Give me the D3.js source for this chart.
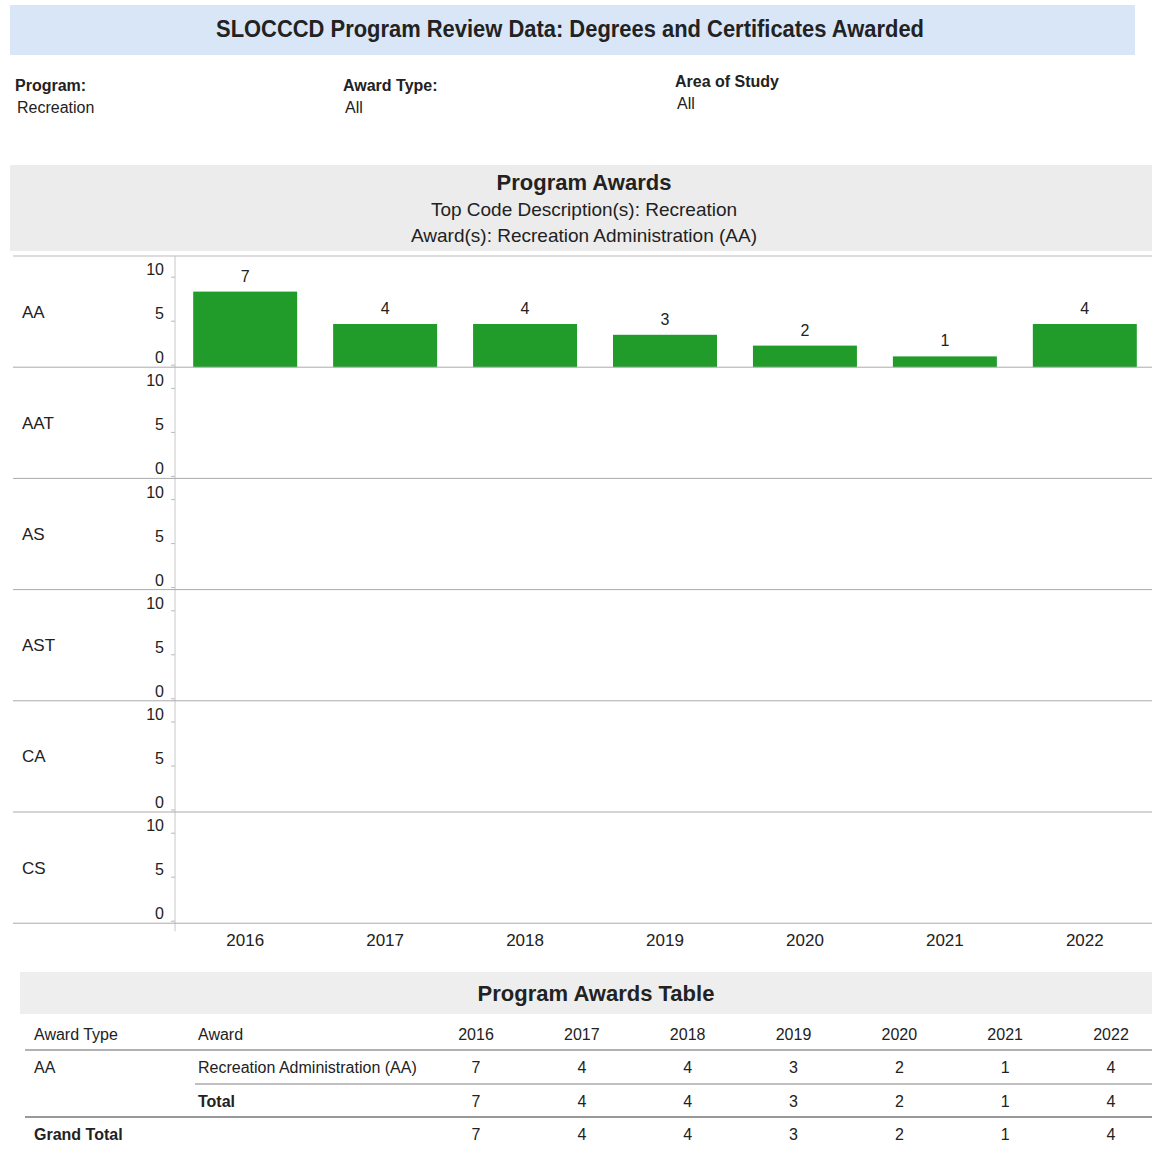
<!DOCTYPE html>
<html>
<head>
<meta charset="utf-8">
<script src="https://cdn.jsdelivr.net/npm/d3@7"></script>
<style>
  body { margin: 0; background: #fff; }
  text { font-family: "Liberation Sans", Arial, sans-serif; fill: #222; }
</style>
</head>
<body>
<div id="chart"></div>
<script>
// data
var years = ["2016", "2017", "2018", "2019", "2020", "2021", "2022"];
var awardTypes = ["AA", "AAT", "AS", "AST", "CA", "CS"];
var aaValues = [7, 4, 4, 3, 2, 1, 4];
var yTicks = [0, 5, 10];
var tableAwards = ["Recreation Administration (AA)"];

var width = 1152, height = 1150;

var svg = d3.select("#chart").append("svg")
    .attr("width", width)
    .attr("height", height);

// header band
svg.append("rect")
    .attr("x", 10).attr("y", 5).attr("width", 1125).attr("height", 50)
    .attr("fill", "#d9e6f8");
svg.append("text")
    .attr("x", 570).attr("y", 37)
    .attr("text-anchor", "middle")
    .style("font-size", "23px").style("font-weight", "bold")
    .attr("textLength", 708).attr("lengthAdjust", "spacingAndGlyphs")
    .text("SLOCCCD Program Review Data: Degrees and Certificates Awarded");

// filters
var filters = [
    {label: "Program:", value: "Recreation", x: 15, y: 91},
    {label: "Award Type:", value: "All", x: 343, y: 91},
    {label: "Area of Study", value: "All", x: 675, y: 87}
];
filters.forEach(function(f) {
    svg.append("text").attr("x", f.x).attr("y", f.y)
        .style("font-size", "16px").style("font-weight", "bold")
        .text(f.label);
    svg.append("text").attr("x", f.x + 2).attr("y", f.y + 22)
        .style("font-size", "16px")
        .text(f.value);
});

// chart title band
svg.append("rect")
    .attr("x", 10).attr("y", 165).attr("width", 1142).attr("height", 86)
    .attr("fill", "#ececec");
svg.append("text").attr("x", 584).attr("y", 190)
    .attr("text-anchor", "middle")
    .style("font-size", "22px").style("font-weight", "bold")
    .text("Program Awards");
svg.append("text").attr("x", 584).attr("y", 216)
    .attr("text-anchor", "middle")
    .style("font-size", "19px")
    .text("Top Code Description(s): Recreation");
svg.append("text").attr("x", 584).attr("y", 242)
    .attr("text-anchor", "middle")
    .style("font-size", "19px")
    .text("Award(s): Recreation Administration (AA)");

// panels
var panelTop = 256, panelH = 111.2, axisX = 175;

var x = d3.scaleBand()
    .domain(years)
    .range([axisX, axisX + 980])
    .paddingInner(0.257)
    .paddingOuter(0.13);

var row = d3.scaleBand()
    .domain(awardTypes)
    .range([panelTop, panelTop + panelH * awardTypes.length]);

// y-axis vertical line
svg.append("line")
    .attr("x1", axisX).attr("x2", axisX)
    .attr("y1", panelTop).attr("y2", row.range()[1] + 8)
    .attr("stroke", "#c8c8c8");

// top border
svg.append("line")
    .attr("x1", 13).attr("x2", 1152)
    .attr("y1", panelTop).attr("y2", panelTop)
    .attr("stroke", "#bbb");

awardTypes.forEach(function(t) {
    var top = row(t), bottom = top + row.bandwidth();
    var g = svg.append("g");

    var yBar = d3.scaleLinear().domain([0, 10]).range([bottom, bottom - 108]);
    var yLab = d3.scaleLinear().domain([0, 10]).range([bottom - 10, bottom - 98]);

    g.append("text").attr("x", 22).attr("y", (top + bottom) / 2 + 6)
        .style("font-size", "17px").text(t);

    g.selectAll(".tl").data(yTicks).enter().append("text")
        .attr("x", 164).attr("y", function(d) { return yLab(d) + 6; })
        .attr("text-anchor", "end")
        .style("font-size", "16px")
        .text(function(d) { return d; });

    g.selectAll(".tk").data(yTicks).enter().append("line")
        .attr("x1", axisX - 4).attr("x2", axisX)
        .attr("y1", function(d) { return yLab(d) + 8; })
        .attr("y2", function(d) { return yLab(d) + 8; })
        .attr("stroke", "#bbb");

    if (t === "AA") {
        g.selectAll("rect").data(aaValues).enter().append("rect")
            .attr("x", function(d, i) { return x(years[i]); })
            .attr("width", x.bandwidth())
            .attr("y", function(d) { return yBar(d); })
            .attr("height", function(d) { return bottom - yBar(d); })
            .attr("fill", "#219c2a");
        g.selectAll(".bl").data(aaValues).enter().append("text")
            .attr("x", function(d, i) { return x(years[i]) + x.bandwidth() / 2; })
            .attr("y", function(d) { return yBar(d) - 10; })
            .attr("text-anchor", "middle")
            .style("font-size", "16px")
            .text(function(d) { return d; });
    }

    g.append("line")
        .attr("x1", 13).attr("x2", 1152)
        .attr("y1", bottom).attr("y2", bottom)
        .attr("stroke", "#aaa");
});

// x labels
svg.selectAll(".xl").data(years).enter().append("text")
    .attr("x", function(d) { return x(d) + x.bandwidth() / 2; })
    .attr("y", 946)
    .attr("text-anchor", "middle")
    .style("font-size", "17px")
    .text(function(d) { return d; });

// table title band
svg.append("rect")
    .attr("x", 20).attr("y", 972).attr("width", 1132).attr("height", 42)
    .attr("fill", "#eeeeee");
svg.append("text").attr("x", 596).attr("y", 1001)
    .attr("text-anchor", "middle")
    .style("font-size", "22px").style("font-weight", "bold")
    .text("Program Awards Table");

// table
var colX = d3.scalePoint().domain(years).range([476, 1111]);
var hdrY = 1040, r1Y = 1073, r2Y = 1107, r3Y = 1140;

svg.append("text").attr("x", 34).attr("y", hdrY).style("font-size", "16px").text("Award Type");
svg.append("text").attr("x", 198).attr("y", hdrY).style("font-size", "16px").text("Award");
svg.selectAll(".th").data(years).enter().append("text")
    .attr("x", function(d) { return colX(d); }).attr("y", hdrY)
    .attr("text-anchor", "middle").style("font-size", "16px")
    .text(function(d) { return d; });

svg.append("line").attr("x1", 25).attr("x2", 1152).attr("y1", 1050).attr("y2", 1050)
    .attr("stroke", "#999").attr("stroke-width", 1.5);

svg.append("text").attr("x", 34).attr("y", r1Y).style("font-size", "16px").text("AA");
svg.append("text").attr("x", 198).attr("y", r1Y).style("font-size", "16px").text(tableAwards[0]);

svg.append("line").attr("x1", 195).attr("x2", 1152).attr("y1", 1084).attr("y2", 1084)
    .attr("stroke", "#aaa").attr("stroke-width", 1.5);

svg.append("text").attr("x", 198).attr("y", r2Y).style("font-size", "16px")
    .style("font-weight", "bold").text("Total");

svg.append("line").attr("x1", 25).attr("x2", 1152).attr("y1", 1117).attr("y2", 1117)
    .attr("stroke", "#999").attr("stroke-width", 2);

svg.append("text").attr("x", 34).attr("y", r3Y).style("font-size", "16px")
    .style("font-weight", "bold").text("Grand Total");

[r1Y, r2Y, r3Y].forEach(function(yy) {
    svg.append("g").selectAll("text").data(aaValues).enter().append("text")
        .attr("x", function(d, i) { return colX(years[i]); }).attr("y", yy)
        .attr("text-anchor", "middle").style("font-size", "16px")
        .text(function(d) { return d; });
});
</script>
</body>
</html>
